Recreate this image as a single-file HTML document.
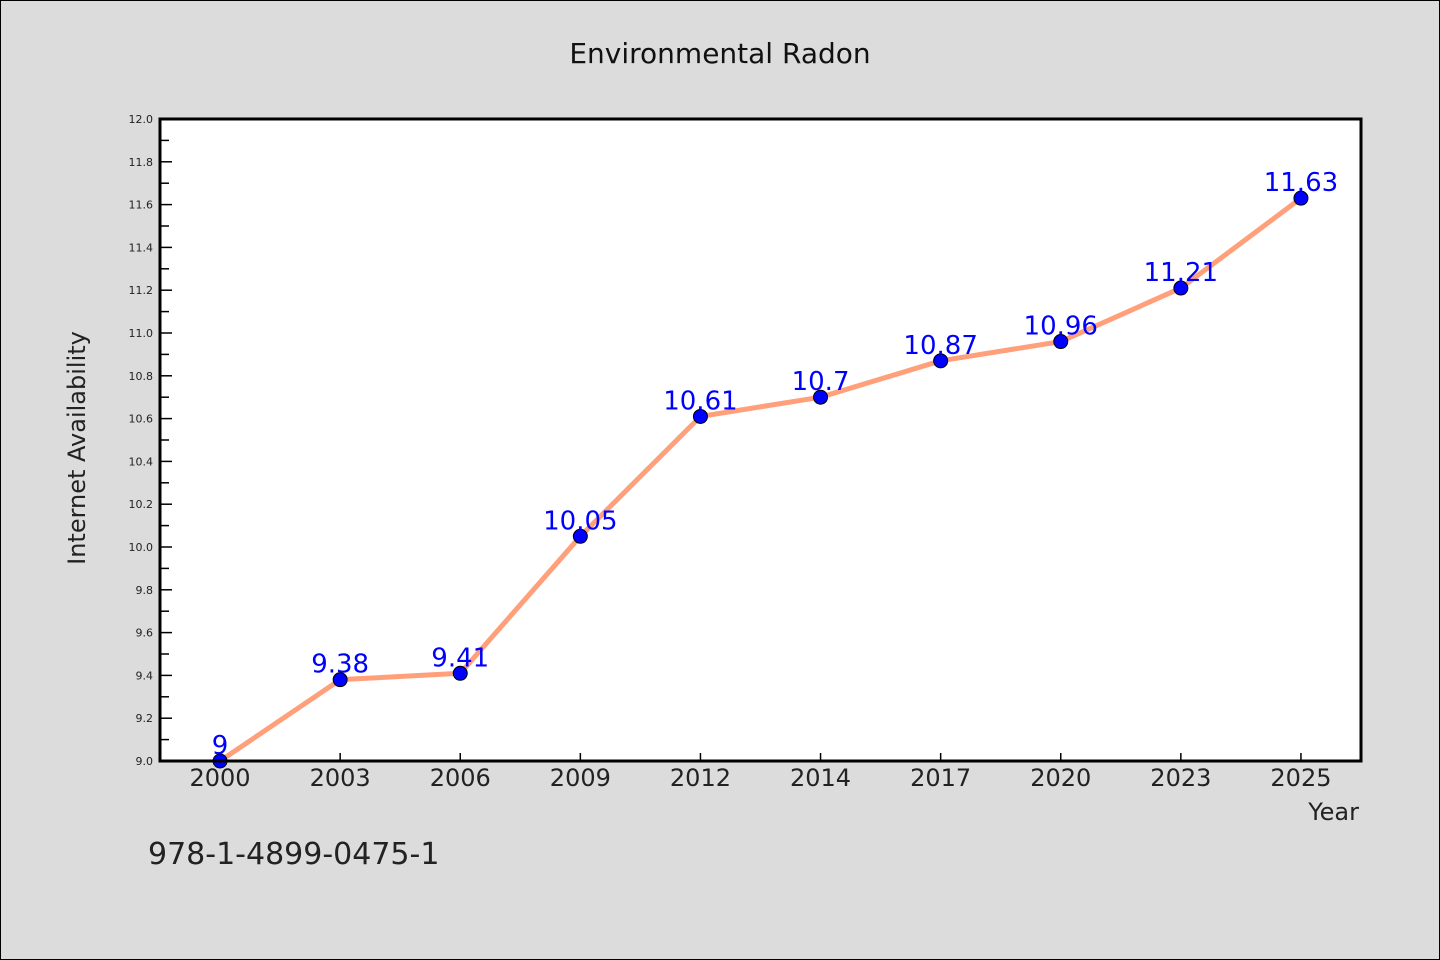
<!DOCTYPE html>
<html><head><meta charset="utf-8"><style>
body{margin:0;background:#dcdcdc;}
svg{display:block;font-family:"DejaVu Sans","Liberation Sans",sans-serif;}
</style></head><body>
<svg width="1440" height="960">
<rect x="0.5" y="0.5" width="1439" height="959" fill="#dcdcdc" stroke="#000"/>
<text x="720" y="63" text-anchor="middle" font-size="28" fill="#111">Environmental Radon</text>
<rect x="160" y="119" width="1201" height="642" fill="#fff"/>
<g id="grid"></g>
<path id="line" fill="none" stroke="#ffa07a" stroke-width="5" stroke-linejoin="round"/>
<g id="marks"></g>
<rect x="160" y="119" width="1201" height="642" fill="none" stroke="#000" stroke-width="3"/>
<text x="85" y="448" transform="rotate(-90 85 448)" text-anchor="middle" font-size="24" fill="#222">Internet Availability</text>
<text x="1359" y="820" text-anchor="end" font-size="24" fill="#222">Year</text>
<text x="148" y="864" font-size="30" fill="#222">978-1-4899-0475-1</text>
</svg>
<script>
const categories=["2000","2003","2006","2009","2012","2014","2017","2020","2023","2025"];
const values=[9,9.38,9.41,10.05,10.61,10.7,10.87,10.96,11.21,11.63];
const valueLabels=["9","9.38","9.41","10.05","10.61","10.7","10.87","10.96","11.21","11.63"];
const yTicks=[9.0,9.2,9.4,9.6,9.8,10.0,10.2,10.4,10.6,10.8,11.0,11.2,11.4,11.6,11.8,12.0];
const NS="http://www.w3.org/2000/svg";
const L=160,R=1361,T=119,B=761,yMin=9,yMax=12;
const band=(R-L)/categories.length;
const x=i=>L+band*(i+0.5);
const y=v=>B-(v-yMin)/(yMax-yMin)*(B-T);
function mk(t,a,p){const e=document.createElementNS(NS,t);for(const k in a)e.setAttribute(k,a[k]);p.appendChild(e);return e;}
const g=document.getElementById('grid'),m=document.getElementById('marks');
yTicks.forEach((v,i)=>{
 const tk=mk('line',{x1:L,x2:L+12,y1:y(v),y2:y(v),stroke:'#000','stroke-width':1.5},g);
 
 
 const t=mk('text',{x:L-7,y:y(v)+4,'text-anchor':'end','font-size':11,fill:'#222'},g);
 t.textContent=v.toFixed(1);
 
 
 if(i<yTicks.length-1){const mv=v+0.1;
  const mt=mk('line',{x1:L,x2:L+9,y1:y(mv),y2:y(mv),stroke:'#000','stroke-width':1.5},g);
  
  }
});
categories.forEach((c,i)=>{
 const tk=mk('line',{x1:x(i),x2:x(i),y1:B,y2:B-8,stroke:'#000','stroke-width':1.5},g);
 
 
 const t=mk('text',{x:x(i),y:B+25,'text-anchor':'middle','font-size':24,fill:'#222'},g);
 t.textContent=c;
 
 
});
document.getElementById('line').setAttribute('d',values.map((v,i)=>(i?'L':'M')+x(i)+','+y(v)).join(''));
values.forEach((v,i)=>{
 const c=mk('circle',{cx:x(i),cy:y(v),r:7,fill:'#0000ff',stroke:'#000','stroke-width':1},m);
 
 
 const t=mk('text',{x:x(i),y:y(v)-7,'text-anchor':'middle','font-size':26,fill:'#0000ff'},m);
 t.textContent=valueLabels[i];
 
 
});
</script>
</body></html>
